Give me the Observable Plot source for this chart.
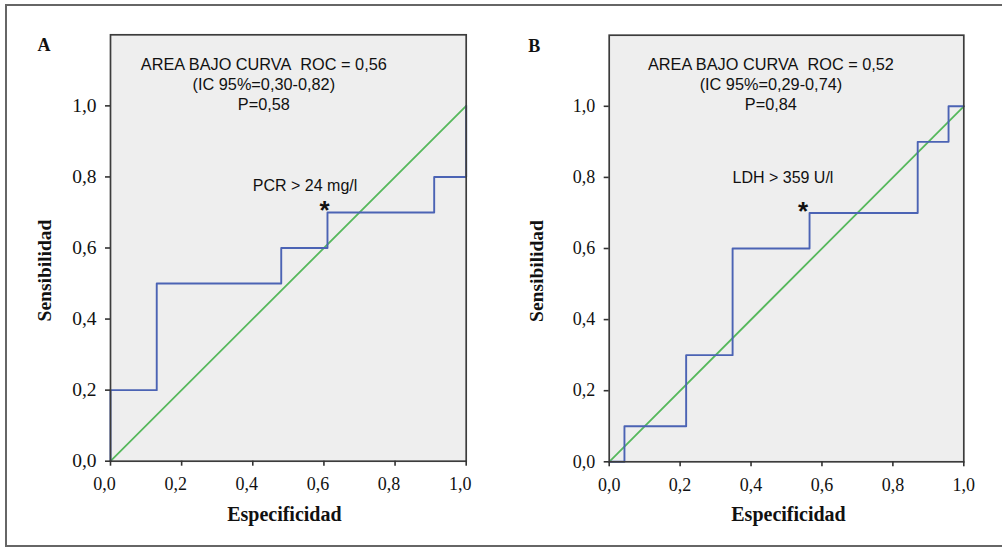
<!DOCTYPE html>
<html>
<head>
<meta charset="utf-8">
<script src="https://cdn.jsdelivr.net/npm/d3@7"></script>
<script src="https://cdn.jsdelivr.net/npm/@observablehq/plot@0.6"></script>
<style>
  html, body { margin: 0; padding: 0; background: #fff; }
  #wrap { position: relative; width: 1002px; height: 548px; overflow: hidden; }
  #border { position: absolute; left: 5px; top: 4px; width: 1010px; height: 539px;
            border-top: 2px solid #666; border-left: 2px solid #666; border-bottom: 2px solid #666; }
  .panel { position: absolute; top: 0; }
</style>
</head>
<body>
<div id="wrap"><div id="border"></div></div>
<script>
// ---- data ----
const tickValues = [0, 0.2, 0.4, 0.6, 0.8, 1.0];
const diagX = [0, 1];
const diagY = [0, 1];

// Panel A (PCR)
const specA = [0, 0, 0.13, 0.48, 0.61, 0.91, 1.0];
const sensA = [0, 0.2, 0.5, 0.6, 0.7, 0.8, 1.0];
const aucTextA = ["AREA BAJO CURVA\u00a0\u00a0ROC = 0,56", "(IC 95%=0,30-0,82)", "P=0,58"];
const aucPosA = [0.431, 1.063];
const cutLabelA = "PCR > 24 mg/l";
const cutLabelPosA = [0.547, 0.774];
const starPosA = [0.602, 0.704];

// Panel B (LDH)
const specB = [0, 0.043, 0.217, 0.348, 0.565, 0.870, 0.957, 1.0];
const sensB = [0, 0.1, 0.3, 0.6, 0.7, 0.9, 1.0, 1.0];
const aucTextB = ["AREA BAJO CURVA\u00a0\u00a0ROC = 0,52", "(IC 95%=0,29-0,74)", "P=0,84"];
const aucPosB = [0.456, 1.063];
const cutLabelB = "LDH > 359 U/l";
const cutLabelPosB = [0.49, 0.799];
const starPosB = [0.547, 0.704];

const xTitle = "Especificidad";
const yTitle = "Sensibilidad";

const fmt = d => d.toFixed(1).replace(".", ",");

function panel(o) {
  const curve = o.spec.map((s, i) => ({x: s, y: o.sens[i]}));
  const diag = diagX.map((d, i) => ({x: d, y: diagY[i]}));
  const sans = "Liberation Sans, Arial, sans-serif";
  return Plot.plot({
    width: o.width, height: 548,
    marginLeft: o.m[0], marginRight: o.m[1], marginTop: o.m[2], marginBottom: o.m[3],
    x: {domain: [0, 1]},
    y: {domain: [0, 1.2]},
    style: {fontFamily: "Liberation Serif, serif", fontSize: "18px", color: "#111", background: "transparent", overflow: "visible"},
    marks: [
      Plot.frame({fill: "#eeeeee", stroke: "none"}),
      Plot.line(diag, {x: "x", y: "y", stroke: "#56b85c", strokeWidth: 1.8}),
      Plot.line(curve, {x: "x", y: "y", curve: "step-after", stroke: "#4b63b4", strokeWidth: 1.9}),
      Plot.frame({stroke: "#3c3c3c", strokeWidth: 1.7}),
      Plot.axisX({ticks: tickValues, tickFormat: fmt, tickSize: 5, tickPadding: 11, label: null, stroke: "#333", strokeWidth: 1.6, fontSize: 18, text: null}),
      Plot.axisX({ticks: tickValues, tickFormat: fmt, tickSize: 0, tickPadding: 16, label: null, textStroke: "none", dx: o.xTickDx, fontSize: 18}),
      Plot.axisY({ticks: tickValues, tickFormat: fmt, tickSize: 5, tickPadding: 9, label: null, stroke: "#333", strokeWidth: 1.6, fontSize: o.yTickFont}),
      Plot.text([{x: o.aucPos[0], y: o.aucPos[1], t: o.aucText.join("\n")}],
        {x: "x", y: "y", text: "t", fontFamily: sans, fontSize: 16.3, lineHeight: 1.21, lineAnchor: "middle", textAnchor: "middle", fill: "#111"}),
      Plot.text([{x: o.cutPos[0], y: o.cutPos[1], t: o.cutLabel}],
        {x: "x", y: "y", text: "t", fontFamily: sans, fontSize: 16, lineAnchor: "middle", textAnchor: "middle", fill: "#111"}),
      Plot.text([{x: o.starPos[0], y: o.starPos[1], t: "*"}],
        {x: "x", y: "y", text: "t", fontFamily: sans, fontSize: 26, fontWeight: "bold", lineAnchor: "middle", textAnchor: "middle", fill: "#111"}),
      Plot.text([o.letter], {frameAnchor: "top-left", dx: o.letterD[0], dy: o.letterD[1], textAnchor: "middle", lineAnchor: "middle", fontSize: 18, fontWeight: "bold", fill: "#111"}),
      Plot.text([xTitle], {frameAnchor: "bottom", dx: o.xTitleDx, dy: 53, textAnchor: "middle", lineAnchor: "middle", fontSize: 20, fontWeight: "bold", fill: "#111"}),
      Plot.text([yTitle], {frameAnchor: "left", dx: o.yTitleDx, dy: 22.5, rotate: -90, textAnchor: "middle", lineAnchor: "middle", fontSize: 19.5, fontWeight: "bold", fill: "#111"})
    ]
  });
}

const wrap = document.getElementById("wrap");
const a = panel({width: 500, m: [110, 34.3, 34.3, 87.3], spec: specA, sens: sensA, aucText: aucTextA, aucPos: aucPosA,
  cutLabel: cutLabelA, cutPos: cutLabelPosA, starPos: starPosA, letter: "A", letterD: [-66.5, 10.9],
  yTitleDx: -65.5, xTitleDx: -4, xTickDx: -6, yTickFont: 19.5});
a.classList.add("panel"); a.style.left = "0px";
wrap.appendChild(a);
const b = panel({width: 502, m: [108.7, 38.7, 34.7, 86.7], spec: specB, sens: sensB, aucText: aucTextB, aucPos: aucPosB,
  cutLabel: cutLabelB, cutPos: cutLabelPosB, starPos: starPosB, letter: "B", letterD: [-74.9, 10.9],
  yTitleDx: -72.5, xTitleDx: 2, xTickDx: 0, yTickFont: 18});
b.classList.add("panel"); b.style.left = "500px";
wrap.appendChild(b);
</script>
</body>
</html>
